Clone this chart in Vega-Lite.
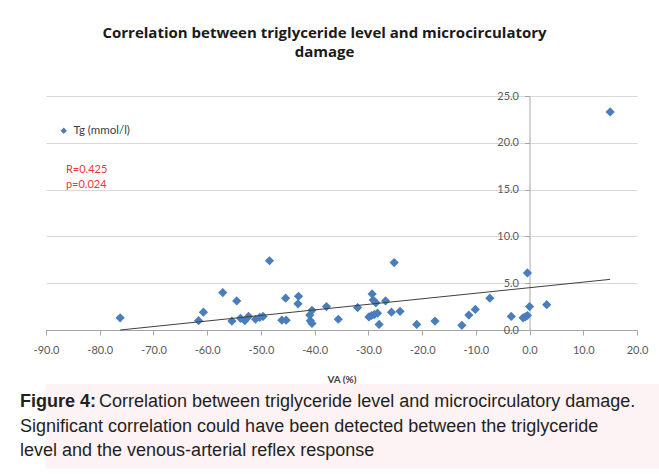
{
  "$schema": "https://vega.github.io/schema/vega-lite/v6.json",
  "background": "white",
  "padding": {"left": 20, "top": 26, "right": 0, "bottom": 0},
  "spacing": 0,
  "config": {"view": {"stroke": null}, "font": "Lato"},
  "datasets": {
    "points": [
      {"VA": -76.2, "Tg": 1.3}, {"VA": -61.6, "Tg": 1.0}, {"VA": -60.7, "Tg": 1.9}, {"VA": -57.1, "Tg": 4.0},
      {"VA": -55.4, "Tg": 0.95}, {"VA": -54.5, "Tg": 3.1}, {"VA": -53.8, "Tg": 1.25}, {"VA": -53.0, "Tg": 1.0},
      {"VA": -52.3, "Tg": 1.45}, {"VA": -51.0, "Tg": 1.15}, {"VA": -50.2, "Tg": 1.35}, {"VA": -49.6, "Tg": 1.45},
      {"VA": -48.4, "Tg": 7.4}, {"VA": -46.1, "Tg": 1.05}, {"VA": -45.3, "Tg": 1.05}, {"VA": -45.4, "Tg": 3.4},
      {"VA": -43.0, "Tg": 3.6}, {"VA": -43.1, "Tg": 2.8}, {"VA": -40.9, "Tg": 1.6}, {"VA": -40.5, "Tg": 2.1},
      {"VA": -40.8, "Tg": 1.0}, {"VA": -40.5, "Tg": 0.7}, {"VA": -37.8, "Tg": 2.5}, {"VA": -35.6, "Tg": 1.15},
      {"VA": -32.0, "Tg": 2.4}, {"VA": -29.3, "Tg": 3.85}, {"VA": -29.1, "Tg": 3.2}, {"VA": -28.6, "Tg": 2.9},
      {"VA": -29.9, "Tg": 1.4}, {"VA": -29.4, "Tg": 1.55}, {"VA": -28.9, "Tg": 1.65}, {"VA": -28.3, "Tg": 1.8},
      {"VA": -28.0, "Tg": 0.6}, {"VA": -26.8, "Tg": 3.1}, {"VA": -25.7, "Tg": 1.9}, {"VA": -25.2, "Tg": 7.2},
      {"VA": -24.1, "Tg": 2.0}, {"VA": -21.0, "Tg": 0.6}, {"VA": -17.6, "Tg": 0.95}, {"VA": -12.6, "Tg": 0.5},
      {"VA": -11.3, "Tg": 1.6}, {"VA": -10.1, "Tg": 2.2}, {"VA": -7.4, "Tg": 3.4}, {"VA": -3.4, "Tg": 1.45},
      {"VA": -1.2, "Tg": 1.3}, {"VA": -0.8, "Tg": 1.4}, {"VA": -0.4, "Tg": 1.55}, {"VA": -0.4, "Tg": 6.1},
      {"VA": 0.0, "Tg": 2.5}, {"VA": 3.2, "Tg": 2.7}, {"VA": 15.0, "Tg": 23.3}
    ],
    "trend": [{"VA": -76.2, "Tg": 0.0}, {"VA": 15.0, "Tg": 5.41}],
    "stats": [{"label": "R=0.425", "VA": -86.3, "Tg": 17.1}, {"label": "p=0.024", "VA": -86.3, "Tg": 15.5}],
    "caption": [
      {"line": 1, "part": "bold", "text": "Figure 4:"},
      {"line": 1, "part": "rest", "text": "Correlation between triglyceride level and microcirculatory damage."},
      {"line": 2, "part": "rest", "text": "Significant correlation could have been detected between the triglyceride"},
      {"line": 3, "part": "rest", "text": "level and the venous-arterial reflex response"}
    ]
  },
  "vconcat": [
    {
      "width": 591,
      "height": 234,
      "title": {
        "text": ["Correlation between triglyceride level and microcirculatory", "damage"],
        "font": "Open Sans", "fontSize": 15, "fontWeight": "bold", "color": "#1a1a1a",
        "lineHeight": 19, "offset": 30, "anchor": "middle", "dx": -17
      },
      "layer": [
        {
          "data": {"name": "points"},
          "mark": {"type": "point", "shape": "diamond", "filled": true, "size": 85, "opacity": 1},
          "encoding": {
            "x": {
              "field": "VA", "type": "quantitative",
              "scale": {"domain": [-90, 20], "nice": false, "zero": false},
              "axis": {
                "values": [-90, -80, -70, -60, -50, -40, -30, -20, -10, 0, 10, 20],
                "format": ".1f", "labelExpr": "replace(datum.label, '\u2212', '-')", "labelFlush": false,
                "title": "VA (%)", "titleFont": "Lato", "titleFontWeight": "bold",
                "titleFontSize": 10, "titleColor": "#404040", "titlePadding": 19,
                "labelFont": "Lato", "labelFontSize": 11, "labelColor": "#595959", "labelPadding": 9,
                "tickColor": "#a6a6a6", "tickSize": 5, "domainColor": "#a6a6a6", "grid": false
              }
            },
            "y": {
              "field": "Tg", "type": "quantitative",
              "scale": {"domain": [0, 25], "nice": false},
              "axis": {
                "values": [0, 5, 10, 15, 20, 25], "format": ".1f", "title": null, "offset": -483.5,
                "labelFont": "Lato", "labelFontSize": 11, "labelColor": "#595959", "labelPadding": 6,
                "tickColor": "#a6a6a6", "tickSize": 5, "domainColor": "#a6a6a6",
                "grid": true, "gridColor": "#d9d9d9"
              }
            },
            "color": {
              "datum": "Tg (mmol/l)",
              "scale": {"range": ["#4a7ebb"]},
              "legend": {
                "title": null, "orient": "none", "legendX": 12, "legendY": 29,
                "symbolType": "diamond", "symbolSize": 40, "labelFont": "Lato", "labelOffset": 4,
                "labelFontSize": 11.5, "labelColor": "#404040", "padding": 0
              }
            }
          }
        },
        {
          "data": {"name": "trend"},
          "mark": {"type": "line", "color": "#404040", "strokeWidth": 1},
          "encoding": {
            "x": {"field": "VA", "type": "quantitative"},
            "y": {"field": "Tg", "type": "quantitative"}
          }
        },
        {
          "data": {"name": "stats"},
          "mark": {"type": "text", "align": "left", "baseline": "middle", "font": "Lato", "fontSize": 11, "color": "#e8383d"},
          "encoding": {
            "x": {"field": "VA", "type": "quantitative"},
            "y": {"field": "Tg", "type": "quantitative"},
            "text": {"field": "label"}
          }
        }
      ]
    },
    {
      "width": 613,
      "height": 85,
      "view": {"fill": "#fdf2f4", "stroke": null},
      "data": {"name": "caption"},
      "encoding": {
        "y": {"field": "line", "type": "ordinal", "axis": null, "scale": {"type": "point", "padding": 0.77}},
        "x": {"datum": 0, "type": "quantitative", "scale": {"domain": [0, 1]}, "axis": null}
      },
      "layer": [
        {
          "transform": [{"filter": "datum.part === 'bold'"}],
          "mark": {"type": "text", "align": "left", "baseline": "middle", "dx": -26, "font": "Liberation Sans", "fontSize": 18, "fontWeight": "bold", "color": "#231f20"},
          "encoding": {"text": {"field": "text"}}
        },
        {
          "transform": [{"filter": "datum.part === 'rest' && datum.line === 1"}],
          "mark": {"type": "text", "align": "left", "baseline": "middle", "dx": 53, "font": "Liberation Sans", "fontSize": 18, "color": "#231f20"},
          "encoding": {"text": {"field": "text"}}
        },
        {
          "transform": [{"filter": "datum.part === 'rest' && datum.line !== 1"}],
          "mark": {"type": "text", "align": "left", "baseline": "middle", "dx": -26, "font": "Liberation Sans", "fontSize": 18, "color": "#231f20"},
          "encoding": {"text": {"field": "text"}}
        }
      ]
    }
  ]
}
